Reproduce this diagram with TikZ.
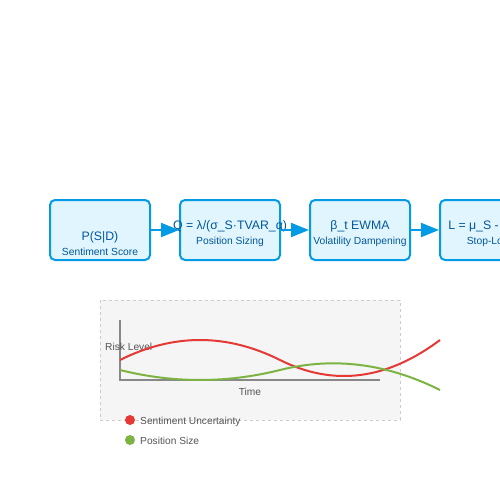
\documentclass[tikz,border=0pt]{standalone}
\usepackage{fontspec}
\setmainfont{Liberation Sans}
\usetikzlibrary{arrows.meta}
\definecolor{boxfill}{HTML}{E1F5FE}
\definecolor{boxline}{HTML}{039BE5}
\definecolor{boxtext}{HTML}{01579B}
\definecolor{panelfill}{HTML}{F5F5F5}
\definecolor{panelline}{HTML}{CCCCCC}
\definecolor{axisgray}{HTML}{888888}
\definecolor{labgray}{HTML}{555555}
\definecolor{redc}{HTML}{E53935}
\definecolor{greenc}{HTML}{7CB342}
\tikzset{
  stagebox/.style={draw=boxline, fill=boxfill, line width=2pt, rounded corners=5pt,
    minimum width=100pt, minimum height=60pt, inner sep=0pt},
  titletext/.style={text=boxtext, font=\fontsize{12.3}{14}\selectfont, inner sep=0pt},
  subtext/.style={text=boxtext, font=\fontsize{10.3}{12}\selectfont, inner sep=0pt},
  flow/.style={draw=boxline, line width=2pt, -{Triangle[length=18pt,width=14pt]}},
  axislab/.style={text=labgray, font=\fontsize{10.2}{12}\selectfont, inner sep=0pt},
  curve/.style={line width=2pt}
}
\begin{document}
\begin{tikzpicture}[x=1pt,y=-1pt]
\useasboundingbox (0,0) rectangle (500,500);
% stage boxes
\node[stagebox] (b1) at (100,230) {};
\node[stagebox] (b2) at (230,230) {};
\node[stagebox] (b3) at (360,230) {};
\node[stagebox] (b4) at (490,230) {};
% texts
\node[titletext] (t1) at (100,237) {P(S|D)};
\node[subtext] (s1) at (100,252) {Sentiment Score};
\node[titletext] (t2) at (230,226.5) {Q = λ/(σ\_S·TVAR\_α)};
\node[subtext] (s2) at (230,242) {Position Sizing};
\node[titletext] (t3) at (360,226.5) {β\_t EWMA};
\node[subtext] (s3) at (360,242) {Volatility Dampening};
\node[titletext] (t4) at (490,226.5) {L = μ\_S - 2σ\_S};
\node[subtext] (s4) at (490,242) {Stop-Loss};
% connectors
\draw[flow] (b1.east) -- (b2.west);
\draw[flow] (b2.east) -- (b3.west);
\draw[flow] (b3.east) -- (b4.west);
% chart panel
\draw[fill=panelfill, draw=panelline, line width=1pt, dash pattern=on 3pt off 3pt] (100,300) rectangle (400,420);
\draw[axisgray, line width=1.5pt] (120,320) -- (120,380) -- (380,380);
\node[axislab, anchor=west] (ylab) at (105,347) {Risk Level};
\node[axislab] (xlab) at (250,392) {Time};
% curves
\draw[redc, curve] (120,360) .. controls (173.33,333.33) and (226.67,333.33) .. (280,360)
  .. controls (333.33,386.67) and (386.67,380) .. (440,340);
\draw[greenc, curve] (120,370) .. controls (173.33,383.33) and (226.67,383.33) .. (280,370)
  .. controls (333.33,356.67) and (386.67,363.33) .. (440,390);
% legend
\fill[redc] (130,420) circle (5);
\node[axislab, anchor=west] (leg1) at (140,421.5) {Sentiment Uncertainty};
\fill[greenc] (130,440) circle (5);
\node[axislab, anchor=west] (leg2) at (140,441) {Position Size};
\end{tikzpicture}
\end{document}
